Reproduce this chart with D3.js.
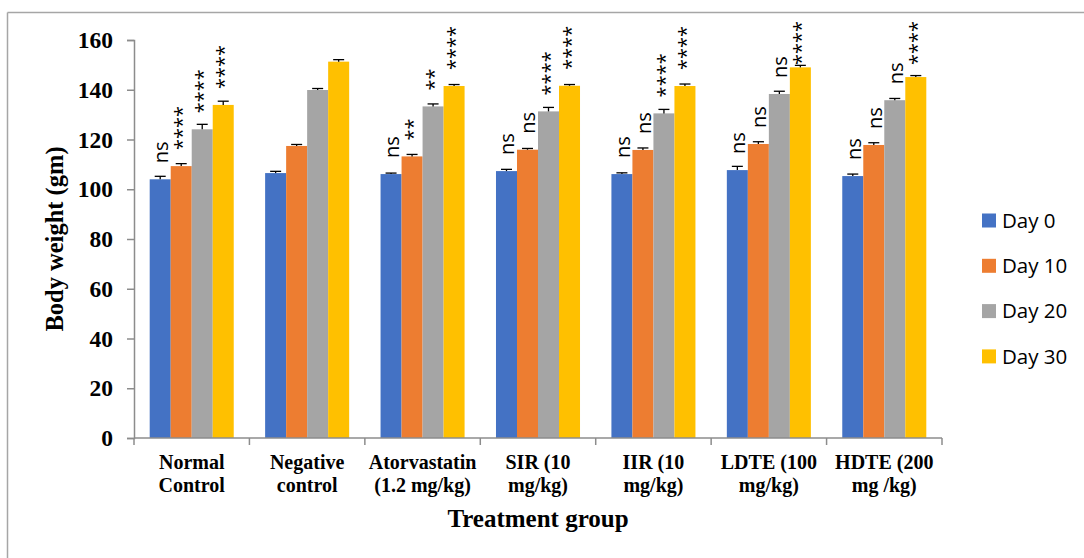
<!DOCTYPE html>
<html>
<head>
<meta charset="utf-8">
<script src="https://cdn.jsdelivr.net/npm/d3@7"></script>
<style>
  html, body { margin: 0; padding: 0; background: #fff; }
  svg { display: block; }
</style>
</head>
<body>
<svg id="chart" width="1084" height="558"></svg>
<script>
// ---- data ----
const categories = [
  ["Normal", "Control"],
  ["Negative", "control"],
  ["Atorvastatin", "(1.2 mg/kg)"],
  ["SIR (10", "mg/kg)"],
  ["IIR (10", "mg/kg)"],
  ["LDTE (100", "mg/kg)"],
  ["HDTE (200", "mg /kg)"]
];
const seriesNames = ["Day 0", "Day 10", "Day 20", "Day 30"];
const day0  = [104.0, 106.5, 106.1, 107.3, 106.1, 107.7, 105.3];
const day10 = [109.3, 117.4, 113.2, 115.9, 115.8, 118.2, 117.8];
const day20 = [124.1, 139.9, 133.3, 131.3, 130.5, 138.3, 135.8];
const day30 = [133.9, 151.3, 141.5, 141.6, 141.5, 149.0, 145.1];
const err0  = [1.2, 0.7, 0.4, 0.7, 0.5, 1.5, 0.8];
const err10 = [1.0, 0.6, 0.8, 0.5, 0.8, 0.9, 0.9];
const err20 = [2.0, 0.6, 1.0, 1.6, 1.6, 1.1, 0.7];
const err30 = [1.5, 0.8, 0.6, 0.5, 0.8, 0.8, 0.6];
const sig0  = ["ns", "", "ns", "ns", "ns", "ns", "ns"];
const sig10 = ["****", "", "**", "ns", "ns", "ns", "ns"];
const sig20 = ["****", "", "**", "****", "****", "ns", "ns"];
const sig30 = ["****", "", "****", "****", "****", "****", "****"];
const yTicks = [0, 20, 40, 60, 80, 100, 120, 140, 160];
const colors = ["#4472C4", "#ED7D31", "#A5A5A5", "#FFC000"];

const values = [day0, day10, day20, day30];
const errs = [err0, err10, err20, err30];
const sigs = [sig0, sig10, sig20, sig30];

// ---- layout ----
const svg = d3.select("#chart");
const plotLeft = 134, plotRight = 942, plotTop = 40, plotBottom = 438;
const axisColor = "#8C8C8C";
const serif = "'Liberation Serif', 'Times New Roman', serif";
const sans = "'Open Sans', 'Noto Sans', sans-serif";

// chart area border (top + left visible)
svg.append("line").attr("x1", 7.5).attr("x2", 1084).attr("y1", 12.5).attr("y2", 12.5)
  .attr("stroke", "#A6A6A6").attr("stroke-width", 1.5);
svg.append("line").attr("x1", 7.5).attr("x2", 7.5).attr("y1", 12.5).attr("y2", 558)
  .attr("stroke", "#A6A6A6").attr("stroke-width", 1.5);

const idx = d3.range(categories.length);
const x0 = d3.scaleBand().domain(idx).range([plotLeft, plotRight]).paddingInner(0.272).paddingOuter(0.136);
const x1 = d3.scaleBand().domain(d3.range(seriesNames.length)).range([0, x0.bandwidth()]);
const y = d3.scaleLinear().domain([0, 160]).range([plotBottom, plotTop]);

// y axis
const yAxis = svg.append("g").attr("transform", `translate(${plotLeft},0)`)
  .call(d3.axisLeft(y).tickValues(yTicks).tickSize(7).tickPadding(14));
yAxis.select(".domain").attr("stroke", axisColor).attr("stroke-width", 1.5);
yAxis.selectAll(".tick line").attr("stroke", axisColor).attr("stroke-width", 1.5);
yAxis.selectAll(".tick text").attr("fill", "#000").attr("font-family", serif)
  .attr("font-weight", "bold").attr("font-size", 23.5);

// bars
const groups = svg.append("g").selectAll("g").data(idx).join("g")
  .attr("transform", d => `translate(${x0(d)},0)`);

seriesNames.forEach((name, s) => {
  groups.append("rect")
    .attr("x", x1(s)).attr("width", x1.bandwidth())
    .attr("y", d => y(values[s][d])).attr("height", d => y(0) - y(values[s][d]))
    .attr("fill", colors[s]);
});

// error bars
seriesNames.forEach((name, s) => {
  const cx = x1(s) + x1.bandwidth() / 2;
  groups.append("line")
    .attr("x1", cx).attr("x2", cx)
    .attr("y1", d => y(values[s][d])).attr("y2", d => y(values[s][d] + errs[s][d]))
    .attr("stroke", "#000").attr("stroke-width", 1.3);
  groups.append("line")
    .attr("x1", cx - 5.5).attr("x2", cx + 5.5)
    .attr("y1", d => y(values[s][d] + errs[s][d])).attr("y2", d => y(values[s][d] + errs[s][d]))
    .attr("stroke", "#000").attr("stroke-width", 1.3);
});

// x axis
svg.append("line").attr("x1", plotLeft).attr("x2", plotRight).attr("y1", plotBottom).attr("y2", plotBottom)
  .attr("stroke", axisColor).attr("stroke-width", 1.5);
const boundaries = d3.range(categories.length + 1).map(i => plotLeft + i * x0.step());
svg.append("g").selectAll("line").data(boundaries).join("line")
  .attr("x1", d => d).attr("x2", d => d).attr("y1", plotBottom).attr("y2", plotBottom + 7)
  .attr("stroke", axisColor).attr("stroke-width", 1.5);

// category labels
const catText = svg.append("g").selectAll("text").data(idx).join("text")
  .attr("x", d => x0(d) + x0.bandwidth() / 2).attr("y", 469)
  .attr("text-anchor", "middle").attr("font-family", serif)
  .attr("font-weight", "bold").attr("font-size", 20).attr("fill", "#000");
catText.append("tspan").attr("x", d => x0(d) + x0.bandwidth() / 2).attr("dy", 0).text(d => categories[d][0]);
catText.append("tspan").attr("x", d => x0(d) + x0.bandwidth() / 2).attr("dy", 23).text(d => categories[d][1]);

// axis titles
svg.append("text").attr("x", (plotLeft + plotRight) / 2).attr("y", 527)
  .attr("text-anchor", "middle").attr("font-family", serif).attr("font-weight", "bold")
  .attr("font-size", 25).attr("fill", "#000").text("Treatment group");
svg.append("text").attr("transform", `translate(63,${(plotTop + plotBottom) / 2}) rotate(-90)`)
  .attr("text-anchor", "middle").attr("font-family", serif).attr("font-weight", "bold")
  .attr("font-size", 24.5).attr("fill", "#000").text("Body weight (gm)");

// significance labels (rotated)
seriesNames.forEach((name, s) => {
  const cx = x1(s) + x1.bandwidth() / 2;
  groups.filter(d => sigs[s][d] !== "").each(function(d) {
    const g = d3.select(this).append("g");
    const t = g.append("text").attr("font-family", sans).attr("font-size", 20)
      .attr("fill", "#000").attr("text-anchor", "start").text(sigs[s][d]);
    const len = t.node().getComputedTextLength();
    const startY = Math.max(y(values[s][d]) - 16, 21 + len);
    g.attr("transform", `translate(${cx + 8},${startY}) rotate(-90)`);
  });
});

// legend
const legend = svg.append("g").selectAll("g").data(seriesNames).join("g")
  .attr("transform", (d, i) => `translate(982,${220.5 + i * 45.3})`);
legend.append("rect").attr("x", 0).attr("y", -7).attr("width", 14).attr("height", 14)
  .attr("fill", (d, i) => colors[i]);
legend.append("text").attr("x", 20).attr("y", 0).attr("dy", "0.35em")
  .attr("font-family", sans).attr("font-size", 20.5).attr("fill", "#000").text(d => d);
</script>
</body>
</html>
